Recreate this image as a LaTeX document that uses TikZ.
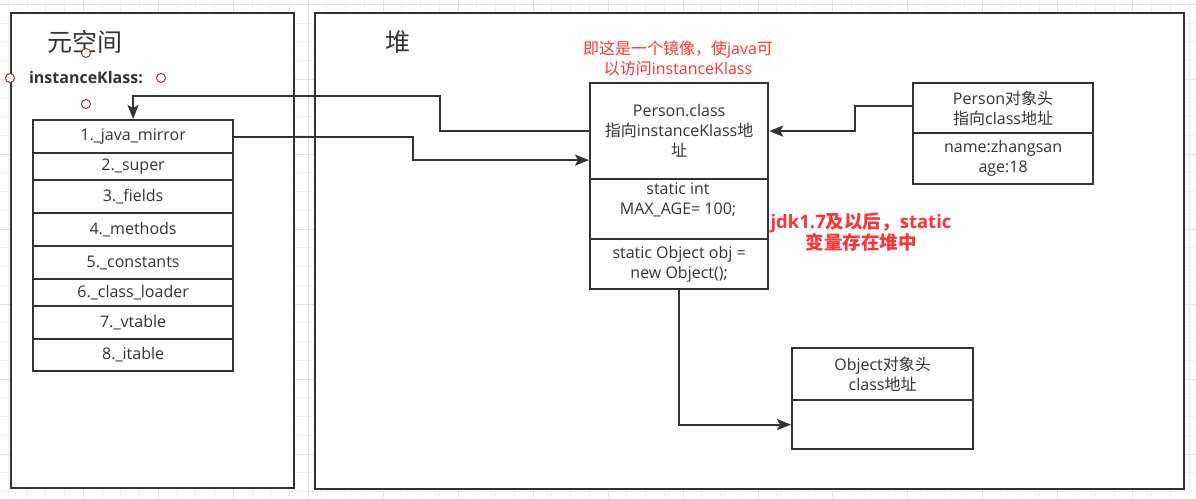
\documentclass[tikz,border=0pt]{standalone}
\usepackage{fontspec}
\setmainfont{Open Sans}
\newfontfamily\cjk{Noto Sans CJK SC}
\usetikzlibrary{arrows.meta}
\definecolor{ink}{HTML}{333333}
\definecolor{redtxt}{HTML}{FF3333}
\definecolor{gridminor}{HTML}{F1F1F1}
\definecolor{gridmajor}{HTML}{E2E2E2}
\definecolor{hintred}{HTML}{993333}
\tikzset{
  container/.style={draw=ink, line width=2.2pt, fill=white, inner sep=0pt, anchor=north west},
  box/.style={draw=ink, line width=2.2pt, fill=white, inner sep=0pt, anchor=north west, align=center, text=ink, font=\fontsize{16}{20}\selectfont},
  label16/.style={align=center, text=ink, font=\fontsize{16}{20}\selectfont, inner sep=0pt},
  arr/.style={draw=ink, line width=2.2pt, line join=miter, -{Stealth[length=14pt,width=11pt,inset=3pt]}},
  hint/.style={circle, draw=hintred, fill=white, line width=1pt, minimum size=9pt, inner sep=0pt},
}
\begin{document}
\begin{tikzpicture}[x=1pt,y=-1pt]
\useasboundingbox (0,0) rectangle (1196,498);
\fill[white] (0,0) rectangle (1196,498);
% grid
\foreach \i in {0,...,63} {\draw[gridminor, line width=0.8pt] ({8.3+18.74*\i},0) -- ({8.3+18.74*\i},498);}
\foreach \i in {0,...,26} {\draw[gridminor, line width=0.8pt] (0,{4.2+18.74*\i}) -- (1196,{4.2+18.74*\i});}
\foreach \i in {4,8,...,63} {\draw[gridmajor, line width=0.8pt] ({8.3+18.74*\i},0) -- ({8.3+18.74*\i},498);}
\foreach \i in {0,4,...,26} {\draw[gridmajor, line width=0.8pt] (0,{4.2+18.74*\i}) -- (1196,{4.2+18.74*\i});}

% containers
\node[container, minimum width=283pt, minimum height=475pt] (meta) at (10,12) {};
\node[container, minimum width=869pt, minimum height=476pt] (heap) at (314,12) {};

\node[text=ink, font=\cjk\fontsize{25}{30}\selectfont, inner sep=0pt] (metaT) at (85,42) {元空间};
\node[text=ink, font=\cjk\fontsize{25}{30}\selectfont, inner sep=0pt] (heapT) at (398,42) {堆};
\node[text=ink, font=\bfseries\fontsize{16}{20}\selectfont, inner sep=0pt] (ik) at (86,78) {instanceKlass:};

% instanceKlass rows
\node[box, minimum width=200pt, minimum height=33pt] (r1) at (32,119) {1.\_java\_mirror};
\node[box, minimum width=200pt, minimum height=27pt] (r2) at (32,152) {\raisebox{-3pt}{2.\_super}};
\node[box, minimum width=200pt, minimum height=33pt] (r3) at (32,179) {3.\_fields};
\node[box, minimum width=200pt, minimum height=33pt] (r4) at (32,212) {4.\_methods};
\node[box, minimum width=200pt, minimum height=33pt] (r5) at (32,245) {5.\_constants};
\node[box, minimum width=200pt, minimum height=27pt] (r6) at (32,278) {\raisebox{-3pt}{6.\_class\_loader}};
\node[box, minimum width=200pt, minimum height=33pt] (r7) at (32,305) {7.\_vtable};
\node[box, minimum width=200pt, minimum height=32pt] (r8) at (32,338) {8.\_itable};

% Person.class
\node[box, minimum width=178pt, minimum height=96pt] (pc1) at (589,82) {Person.class\\{\cjk 指向}instanceKlass{\cjk 地}\\{\cjk 址}};
\node[box, minimum width=178pt, minimum height=60pt] (pc2) at (589,178) {};
\node[label16] (pc2t) at (678,200) {static int\\MAX\_AGE= 100;};
\node[box, minimum width=178pt, minimum height=50pt] (pc3) at (589,238) {static Object obj =\\new Object();};

% Person object
\node[box, minimum width=180pt, minimum height=50pt] (ph1) at (912,82) {Person{\cjk 对象头}\\{\cjk 指向}class{\cjk 地址}};
\node[box, minimum width=180pt, minimum height=51pt] (ph2) at (912,132) {name:zhangsan\\age:18};

% Object
\node[box, minimum width=181pt, minimum height=52pt] (ob1) at (791,347) {Object{\cjk 对象头}\\class{\cjk 地址}};
\node[box, minimum width=181pt, minimum height=49pt] (ob2) at (791,399) {};

% notes
\node[align=center, text=redtxt, font=\fontsize{16}{20}\selectfont, inner sep=0pt] (note) at (678,58) {{\cjk 即这是一个镜像，使}java{\cjk 可}\\{\cjk 以访问}instanceKlass};
\node[align=center, text=redtxt, font=\bfseries\fontsize{18.5}{21}\selectfont, inner sep=0pt] (jdk) at (861,232) {jdk1.7{\cjk 及以后，}static\\{\cjk 变量存在堆中}};

% connectors
\draw[arr] (pc1.west) -- ++(-149,0) -- ++(0,-35) -| (r1.north);
\draw[arr] (r1.east) -- ++(179,0) |- ([yshift=-29pt]pc1.west);
\draw[arr] ([yshift=2pt]ph1.west) -- ++(-57,0) |- (pc1.east);
\draw[arr] (pc3.south) |- (ob2.west);

% connection hints
\node[hint] (h1) at (86,53) {};
\node[hint] (h2) at (10,78) {};
\node[hint] (h3) at (161,78) {};
\node[hint] (h4) at (86,104) {};
\end{tikzpicture}
\end{document}
